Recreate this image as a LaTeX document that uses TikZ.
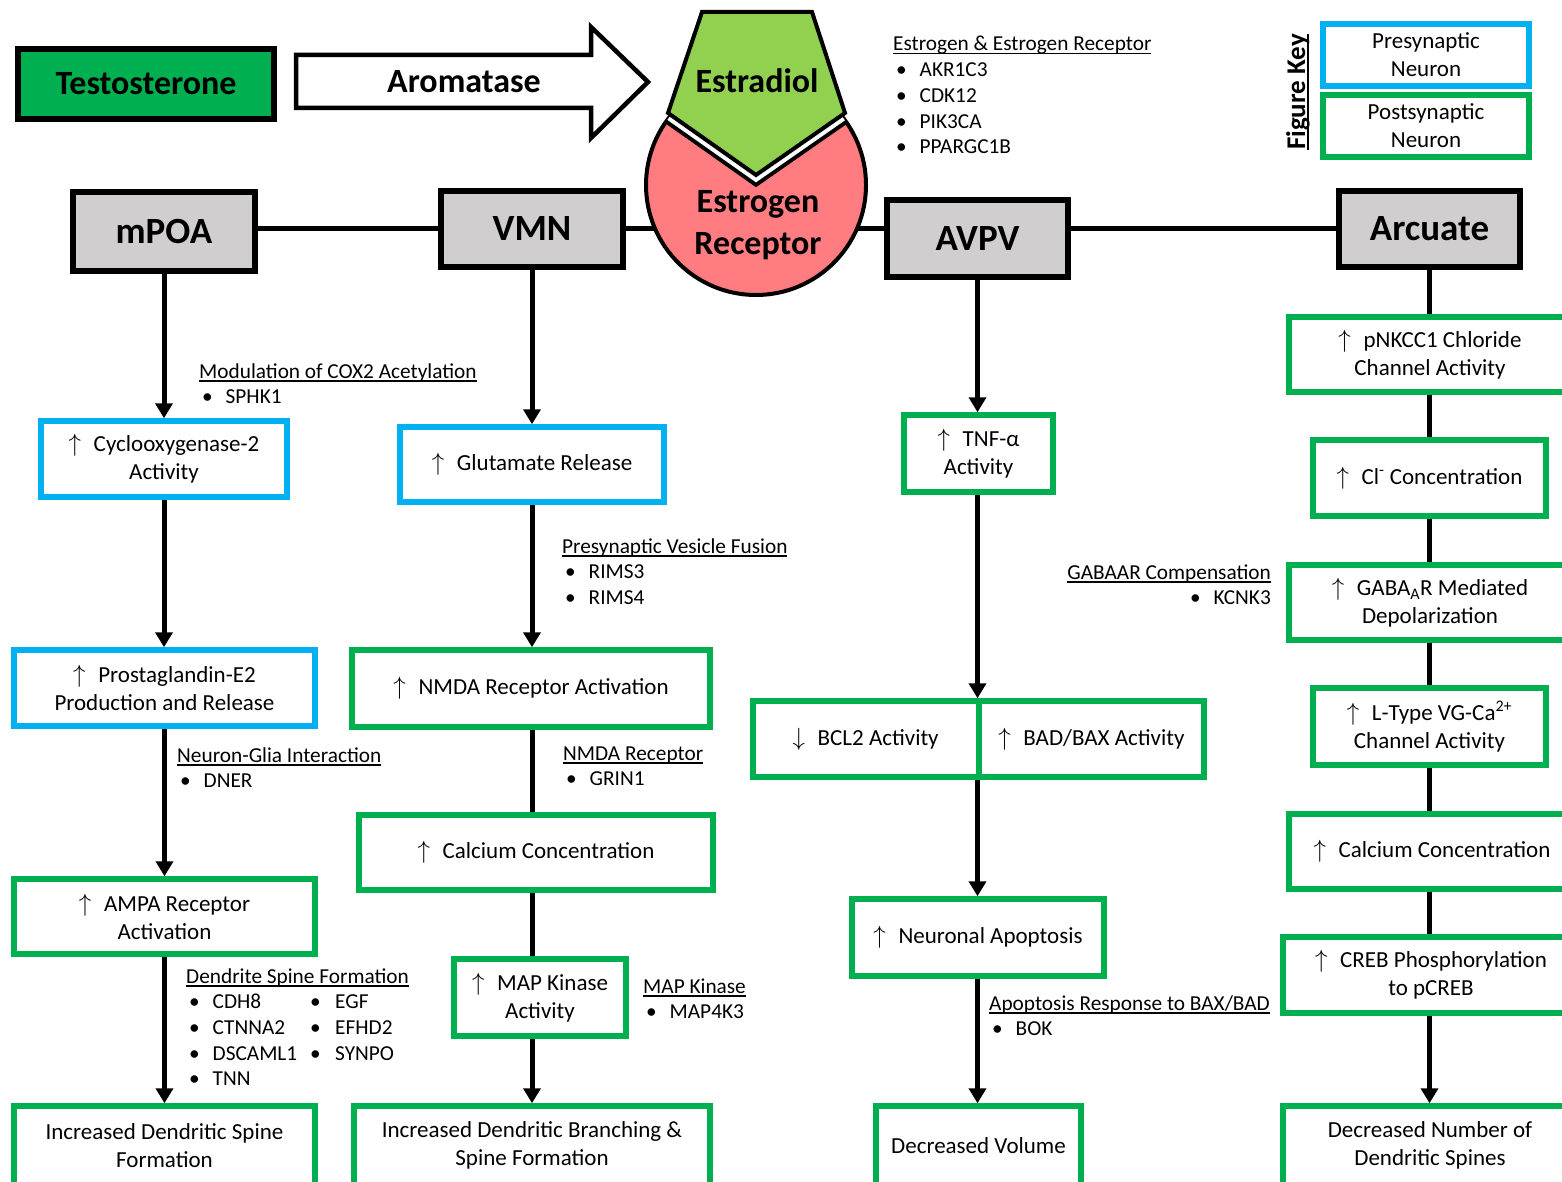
\documentclass[tikz,border=0pt]{standalone}
\usepackage{fontspec}
\setmainfont{Carlito}
\usetikzlibrary{arrows.meta,backgrounds}
\definecolor{gbox}{HTML}{00B050}
\definecolor{bbox}{HTML}{00B0F0}
\definecolor{tgreen}{HTML}{00B050}
\definecolor{egreen}{HTML}{92D050}
\definecolor{ered}{HTML}{FF7C80}
\definecolor{rgray}{HTML}{D0CECE}
\newsavebox\ulbox
\newcommand\ulin[1]{\leavevmode\sbox\ulbox{#1}\rlap{\rule[-3.5pt]{\wd\ulbox}{1.4pt}}\usebox\ulbox}
\newcommand\bul{\hspace*{3pt}\makebox[23.5pt][l]{•}}
\newcommand\up{$\uparrow$\hspace{0.55em}}
\newcommand\dn{$\downarrow$\hspace{0.55em}}
\newcommand\bx[7]{\node[#2, minimum width={#5-#3-6}, minimum height={#6-#4-6}] (#1) at ({(#3+#5)/2},{(#4+#6)/2}) {#7};}
\tikzset{
  gb/.style={draw=gbox, line width=5.5pt, fill=white, inner sep=0pt, align=center, font=\fontsize{23}{28}\selectfont},
  bb/.style={gb, draw=bbox},
  region/.style={draw=black, line width=6pt, fill=rgray, inner sep=0pt, font=\bfseries\fontsize{37}{44}\selectfont},
  topbox/.style={draw=black, line width=6pt, fill=tgreen, inner sep=0pt, font=\bfseries\fontsize{34}{42}\selectfont},
  titlefont/.style={inner sep=0pt, font=\bfseries\fontsize{34}{42}\selectfont},
  conn/.style={line width=5pt},
  arr/.style={conn, -{Triangle[width=17pt,length=15pt]}},
  ann/.style={inner sep=0pt, anchor=base west, font=\fontsize{21.3}{25.7}\selectfont},
}
\begin{document}
\begin{tikzpicture}[x=1pt,y=-1pt]
\useasboundingbox (0,0) rectangle (1562,1182);
\clip (0,0) rectangle (1562,1182);

% ---------- top row ----------
\bx{testo}{topbox}{15}{46}{277}{122}{Testosterone}
\draw[line width=4.5pt, fill=white, line join=miter] (296,55) -- (591,55) -- (591,27) -- (648,82) -- (591,138) -- (591,108) -- (296,108) -- cycle;
\node[titlefont] (arom) at (464,82) {Aromatase};

% receptor and estradiol
\fill[ered] (756,185) circle[radius=110];
\draw[line width=4pt] (756,185) circle[radius=110];
\begin{scope}
  \clip (756,185) circle[radius=110];
  \draw[line width=20pt, line join=miter] (702,12) -- (812,12) -- (845,113) -- (756,175) -- (668,113) -- cycle;
  \draw[white, line width=12pt, line join=miter] (702,12) -- (812,12) -- (845,113) -- (756,175) -- (668,113) -- cycle;
\end{scope}
\draw[fill=egreen, line width=4pt, line join=miter] (702,12) -- (812,12) -- (845,113) -- (756,175) -- (668,113) -- cycle;
\node[titlefont] (estr) at (757,81) {Estradiol};
\node[titlefont, align=center] (recep) at (758,225) {Estrogen\\Receptor};

% estrogen annotation
\node[ann] (aer) at (893,51) {\parbox[t]{400pt}{\raggedright\ulin{Estrogen \& Estrogen Receptor}\\\bul AKR1C3\\\bul CDK12\\\bul PIK3CA\\\bul PPARGC1B}};

% figure key
\bx{pre}{bb}{1320}{21}{1532}{89}{Presynaptic\\Neuron}
\bx{post}{gb}{1320}{92}{1532}{160}{Postsynaptic\\Neuron}
\node[rotate=90, anchor=base, inner sep=0pt, font=\bfseries\fontsize{27}{32}\selectfont] (fkey) at (1305,92) {\ulin{Figure Key}};

% ---------- regions ----------
\bx{mpoa}{region}{70}{189}{258}{274}{mPOA}
\bx{vmn}{region}{438}{188}{626}{270}{VMN}
\bx{avpv}{region}{884}{197}{1071}{280}{AVPV}
\bx{arc}{region}{1336}{188}{1523}{270}{Arcuate}

% ---------- column 1 ----------
\bx{cox}{bb}{38}{418}{290}{500}{\up Cyclooxygenase-2\\Activity}
\bx{pge}{bb}{11}{647}{318}{729}{\up Prostaglandin-E2\\Production and Release}
\bx{ampa}{gb}{11}{876}{318}{957}{\up AMPA Receptor\\Activation}
\bx{fin1}{gb}{11}{1103}{318}{1188}{Increased Dendritic Spine\\Formation}

\node[ann] (acox) at (199,378) {\parbox[t]{400pt}{\raggedright\ulin{Modulation of COX2 Acetylation}\\\bul SPHK1}};
\node[ann] (aglia) at (177,762) {\parbox[t]{400pt}{\raggedright\ulin{Neuron-Glia Interaction}\\\bul DNER}};
\node[ann] (adsf) at (186,983) {\parbox[t]{300pt}{\raggedright\ulin{Dendrite Spine Formation}\\\bul\makebox[97.5pt][l]{CDH8}\makebox[25pt][l]{•}EGF\\\bul\makebox[97.5pt][l]{CTNNA2}\makebox[25pt][l]{•}EFHD2\\\bul\makebox[97.5pt][l]{DSCAML1}\makebox[25pt][l]{•}SYNPO\\\bul TNN}};

% ---------- column 2 ----------
\bx{glu}{bb}{397}{424}{667}{505}{\up Glutamate Release}
\bx{nmda}{gb}{349}{647}{713}{730}{\up NMDA Receptor Activation}
\bx{ca2}{gb}{356}{812}{716}{893}{\up Calcium Concentration}
\bx{mapk}{gb}{451}{956}{629}{1039}{\up MAP Kinase\\Activity}
\bx{fin2}{gb}{351}{1103}{713}{1188}{Increased Dendritic Branching \&\\Spine Formation}

\node[ann] (apvf) at (562,553) {\parbox[t]{400pt}{\raggedright\ulin{Presynaptic Vesicle Fusion}\\\bul RIMS3\\\bul RIMS4}};
\node[ann] (anmda) at (563,760) {\parbox[t]{400pt}{\raggedright\ulin{NMDA Receptor}\\\bul GRIN1}};
\node[ann] (amap) at (643,993) {\parbox[t]{300pt}{\raggedright\ulin{MAP Kinase}\\\bul MAP4K3}};

% ---------- column 3 ----------
\bx{tnf}{gb}{901}{412}{1056}{495}{\up TNF-α\\Activity}
\bx{bcl}{gb}{750}{698}{981.25}{780}{\dn BCL2 Activity}
\bx{bax}{gb}{975.75}{698}{1207}{780}{\up BAD/BAX Activity}
\bx{apop}{gb}{849}{896}{1107}{979}{\up Neuronal Apoptosis}
\bx{fin3}{gb}{873}{1103}{1084}{1188}{Decreased Volume}

\node[ann, anchor=base east] (agaba) at (1271,579) {\parbox[t]{300pt}{\raggedleft\ulin{GABAAR Compensation}\\\bul KCNK3}};
\node[ann] (abok) at (989,1010) {\parbox[t]{400pt}{\raggedright\ulin{Apoptosis Response to BAX/BAD}\\\bul BOK}};

% ---------- column 4 ----------
\bx{nkcc}{gb}{1286}{314}{1574}{395}{\up pNKCC1 Chloride\\Channel Activity}
\bx{cl}{gb}{1310}{437}{1549}{519}{\up Cl\textsuperscript{-} Concentration}
\bx{gabar}{gb}{1286}{562}{1574}{643}{\up GABA\textsubscript{A}R Mediated\\Depolarization}
\bx{ltype}{gb}{1310}{685}{1549}{768}{\up L-Type VG-Ca\textsuperscript{2+}\\Channel Activity}
\bx{ca4}{gb}{1286}{811}{1578}{892}{\up Calcium Concentration}
\bx{creb}{gb}{1280}{934}{1582}{1016}{\up CREB Phosphorylation\\to pCREB}
\bx{fin4}{gb}{1280}{1103}{1580}{1188}{Decreased Number of\\Dendritic Spines}

% ---------- connectors ----------
\draw[arr] (mpoa.south) -- (mpoa.south |- cox.north);
\draw[arr] (cox.south) -- (cox.south |- pge.north);
\draw[arr] (pge.south) -- (pge.south |- ampa.north);
\draw[arr] (ampa.south) -- (ampa.south |- fin1.north);

\draw[arr] (vmn.south) -- (vmn.south |- glu.north);
\draw[arr] (vmn.south |- glu.south) -- (vmn.south |- nmda.north);
\draw[conn] (vmn.south |- nmda.south) -- (vmn.south |- ca2.north);
\draw[conn] (vmn.south |- ca2.south) -- (vmn.south |- mapk.north);
\draw[arr] (vmn.south |- mapk.south) -- (vmn.south |- fin2.north);

\draw[arr] (avpv.south) -- (avpv.south |- tnf.north);
\draw[arr] (avpv.south |- tnf.south) -- (avpv.south |- bcl.north);
\draw[arr] (avpv.south |- bcl.south) -- (avpv.south |- apop.north);
\draw[arr] (avpv.south |- apop.south) -- (avpv.south |- fin3.north);

\draw[conn] (arc.south) -- (arc.south |- nkcc.north);
\draw[conn] (arc.south |- nkcc.south) -- (arc.south |- cl.north);
\draw[conn] (arc.south |- cl.south) -- (arc.south |- gabar.north);
\draw[conn] (arc.south |- gabar.south) -- (arc.south |- ltype.north);
\draw[conn] (arc.south |- ltype.south) -- (arc.south |- ca4.north);
\draw[conn] (arc.south |- ca4.south) -- (arc.south |- creb.north);
\draw[arr] (arc.south |- creb.south) -- (arc.south |- fin4.north);

\begin{scope}[on background layer]
  \fill[white] (0,0) rectangle (1562,1182);
  \draw[conn] (mpoa.east |- vmn.west) -- (vmn.west);
  \draw[conn] (vmn.east) -- (vmn.east -| avpv.west);
  \draw[conn] (avpv.east |- arc.west) -- (arc.west);
\end{scope}
\end{tikzpicture}
\end{document}
